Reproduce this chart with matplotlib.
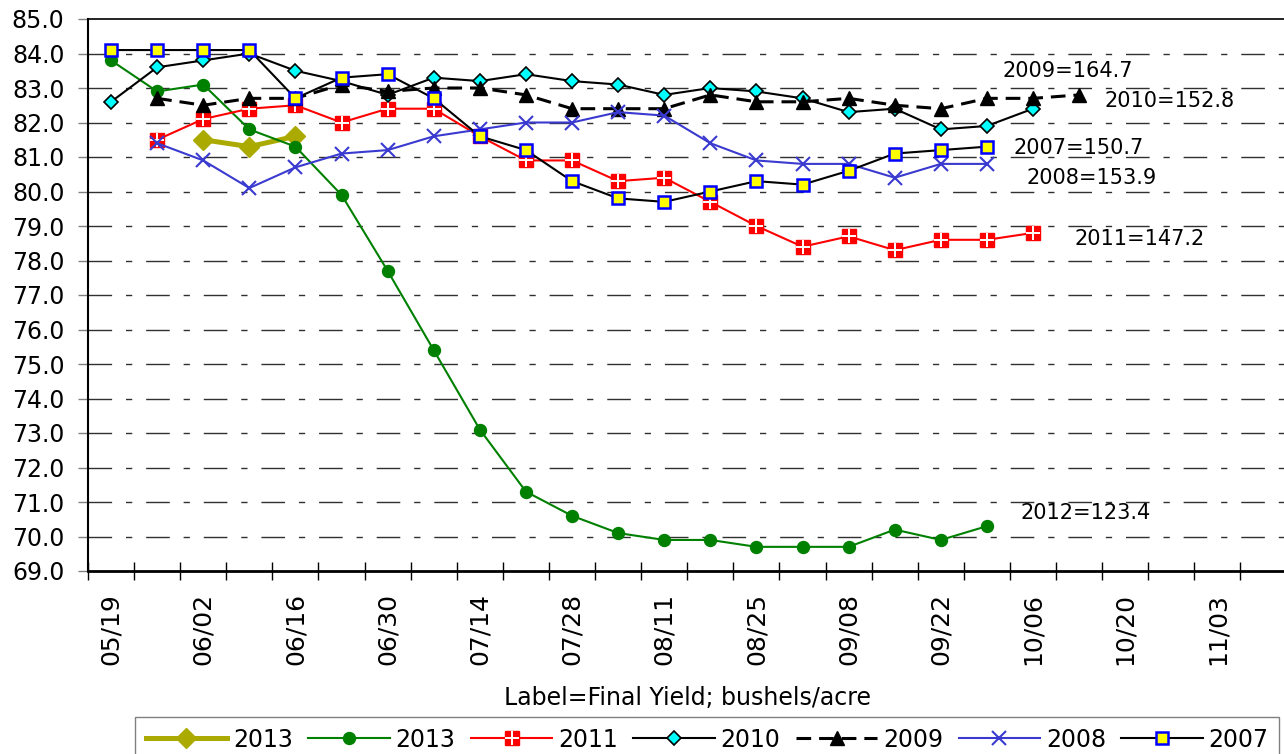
import numpy as np
import matplotlib
matplotlib.use("Agg")
import matplotlib.pyplot as plt
from matplotlib.lines import Line2D
from matplotlib.legend_handler import HandlerTuple

plt.rcParams['font.family'] = ['DejaVu Sans']

nan = np.nan
weeks = ['05/19', '05/26', '06/02', '06/09', '06/16', '06/23', '06/30', '07/07',
         '07/14', '07/21', '07/28', '08/04', '08/11', '08/18', '08/25', '09/01',
         '09/08', '09/15', '09/22', '09/29', '10/06', '10/13', '10/20', '10/27',
         '11/03', '11/10']

y2013 = [nan, nan, 81.5, 81.3, 81.6]
y2012 = [83.8, 82.9, 83.1, 81.8, 81.3, 79.9, 77.7, 75.4, 73.1, 71.3, 70.6, 70.1,
         69.9, 69.9, 69.7, 69.7, 69.7, 70.2, 69.9, 70.3]
y2011 = [nan, 81.5, 82.1, 82.4, 82.5, 82.0, 82.4, 82.4, 81.6, 80.9, 80.9, 80.3,
         80.4, 79.7, 79.0, 78.4, 78.7, 78.3, 78.6, 78.6, 78.8]
y2010 = [82.6, 83.6, 83.8, 84.0, 83.5, 83.2, 82.8, 83.3, 83.2, 83.4, 83.2, 83.1,
         82.8, 83.0, 82.9, 82.7, 82.3, 82.4, 81.8, 81.9, 82.4]
y2009 = [nan, 82.7, 82.5, 82.7, 82.7, 83.1, 82.9, 83.0, 83.0, 82.8, 82.4, 82.4,
         82.4, 82.8, 82.6, 82.6, 82.7, 82.5, 82.4, 82.7, 82.7, 82.8]
y2008 = [nan, 81.4, 80.9, 80.1, 80.7, 81.1, 81.2, 81.6, 81.8, 82.0, 82.0, 82.3,
         82.2, 81.4, 80.9, 80.8, 80.8, 80.4, 80.8, 80.8]
y2007 = [84.1, 84.1, 84.1, 84.1, 82.7, 83.3, 83.4, 82.7, 81.6, 81.2, 80.3, 79.8,
         79.7, 80.0, 80.3, 80.2, 80.6, 81.1, 81.2, 81.3]

legend_labels = ['2013', '2013', '2011', '2010', '2009', '2008', '2007']
final_labels = ['2009=164.7', '2010=152.8', '2007=150.7', '2008=153.9',
                '2011=147.2', '2012=123.4']
final_label_x = [19.33, 21.56, 19.57, 19.85, 20.89, 19.72]
final_label_y = [83.49, 82.63, 81.26, 80.39, 78.62, 70.68]

W, H = 1284, 754
fig = plt.figure(figsize=(W / 100, H / 100), dpi=100)
left, right, top, bottom = 88, 1286.6, 19, 571
ax = fig.add_axes([left / W, 1 - bottom / H, (right - left) / W, (bottom - top) / H])

def xs(v):
    return np.arange(len(v))

h13, = ax.plot(xs(y2013), y2013, color='#AAAA00', lw=3.6, marker='D', ms=9.8,
               mfc='#AAAA00', mec='#AAAA00', zorder=3)
h12, = ax.plot(xs(y2012), y2012, color='#008000', lw=1.5, marker='o', ms=8.6,
               mfc='#008000', mec='#008000', zorder=4)
h11, = ax.plot(xs(y2011), y2011, color='#FF0000', lw=1.5, marker='s', ms=9.4,
               mfc='#FF0000', mec='#FF0000', zorder=5)
h11p, = ax.plot(xs(y2011), y2011, ls='none', marker='+', ms=9.4, mew=1.4,
                color='white', zorder=5.1)
h10, = ax.plot(xs(y2010), y2010, color='black', lw=1.5, marker='D', ms=7.0,
               mfc='#00FFFF', mec='black', mew=1.2, zorder=6)
h09, = ax.plot(xs(y2009), y2009, color='black', lw=2.2, ls=(0, (4.8, 2.6)),
               marker='^', ms=9.4, mfc='black', mec='black', zorder=7)
h08, = ax.plot(xs(y2008), y2008, color='#3A3AD0', lw=1.5, marker='x', ms=9.4,
               mew=1.5, mec='#3A3AD0', zorder=8)
h07, = ax.plot(xs(y2007), y2007, color='black', lw=1.5, marker='s', ms=8.4,
               mfc='#FFFF00', mec='#0000FF', mew=1.8, zorder=9)

for t, x, y in zip(final_labels, final_label_x, final_label_y):
    ax.text(x, y, t, fontsize=15, ha='left', va='center', color='black', zorder=10)

ax.set_xlim(-0.5, len(weeks) - 0.5)
ax.set_ylim(69, 85)

# y axis
ax.set_yticks(np.arange(69, 86, 1))
ax.set_yticklabels([f'{v:.1f}' for v in np.arange(69, 86, 1)])
ax.tick_params(axis='y', which='major', direction='out', length=7, width=1,
               color='#808080', pad=10, labelsize=17)
for v in np.arange(70, 85, 1):
    ax.axhline(v, color='#303030', lw=1.0, ls=(0, (17, 10, 4.5, 10)), zorder=1)

# x axis: ticks at category boundaries, labels every other week at centers
ax.set_xticks(np.arange(-0.5, len(weeks), 1.0))
ax.set_xticklabels([])
ax.tick_params(axis='x', which='major', direction='inout', length=13, width=1,
               color='black')
centers = np.arange(0, len(weeks), 2)
ax.set_xticks(centers, minor=True)
ax.set_xticklabels([weeks[i] for i in centers], minor=True, rotation=90)
ax.tick_params(axis='x', which='minor', length=0, pad=16, labelsize=18)

ax.set_xlabel('Label=Final Yield; bushels/acre', fontsize=17)
ax.xaxis.set_label_coords(0.5, -0.208)

for s in ['left', 'bottom', 'top']:
    ax.spines[s].set_color('black')
ax.spines['left'].set_linewidth(1.5)
ax.spines['bottom'].set_linewidth(2.0)
ax.spines['top'].set_linewidth(1.2)
ax.spines['right'].set_visible(False)

handles = [h13, h12, (h11, h11p), h10, h09, h08, h07]
leg = fig.legend(handles, legend_labels, ncol=7, loc='upper left',
                 bbox_to_anchor=(135 / W, 1 - 717 / H), fontsize=17,
                 handlelength=3.45, handletextpad=0.25, columnspacing=0.65,
                 borderpad=0.45, borderaxespad=0, fancybox=False, framealpha=1,
                 edgecolor='#808080', handler_map={tuple: HandlerTuple(ndivide=1)})
leg.get_frame().set_linewidth(1.0)

fig.savefig('out.png', dpi=100)
